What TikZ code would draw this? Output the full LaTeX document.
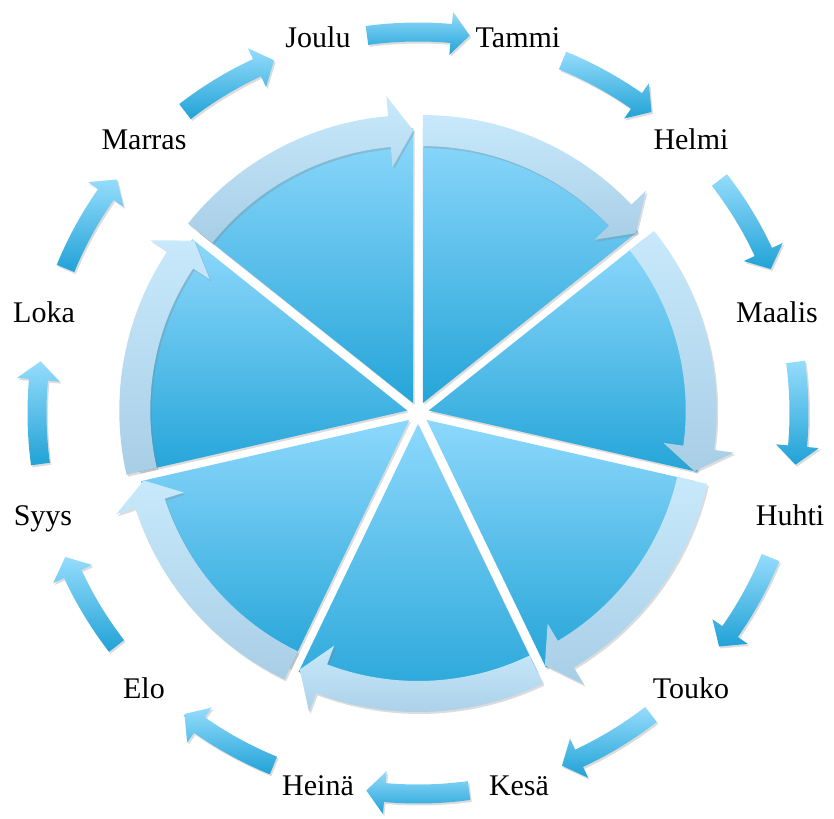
\documentclass[tikz,border=0pt]{standalone}
\usepackage{fontspec}
\setmainfont{Liberation Serif}
\usetikzlibrary{shadows}

\definecolor{wedgetop}{HTML}{8DD8FC}
\definecolor{wedgebot}{HTML}{25A5D8}
\definecolor{bandtop}{HTML}{C8E9FB}
\definecolor{bandbot}{HTML}{A8CEE6}
\definecolor{ringtop}{HTML}{95DCFC}
\definecolor{ringbot}{HTML}{20A2D6}

% gebogener Pfeil: Schwanzwinkel, Basiswinkel Spitze, Spitzenwinkel,
% r innen, r aussen, Spitze innen, Spitze aussen, r Spitze
\newcommand{\bentarrow}[8]{%
  (#1:#5) arc[start angle=#1, end angle=#2, radius=#5] -- (#2:#7) -- (#3:#8)
  -- (#2:#6) -- (#2:#4) arc[start angle=#2, end angle=#1, radius=#4] -- cycle}

\tikzset{
  softshadow/.style={drop shadow={opacity=0.28, shadow xshift=1.5pt, shadow yshift=-2pt}},
  wedgefill/.style={top color=wedgetop, bottom color=wedgebot, softshadow},
  bandfill/.style={top color=bandtop, bottom color=bandbot, softshadow},
  ringfill/.style={top color=ringtop, bottom color=ringbot, softshadow},
  monthlabel/.style={anchor=base, inner sep=0pt, font=\fontsize{30}{36}\selectfont}
}

\begin{document}
\begin{tikzpicture}[x=1pt, y=1pt]

  \useasboundingbox (-418,-405) rectangle (416,413);

  % --- Tortenstuecke (7, leicht auseinandergezogen) ---
  \foreach \k in {0,...,6}{
    \pgfmathsetmacro{\s}{90-\k*360/7}
    \pgfmathsetmacro{\e}{\s-360/7}
    \pgfmathsetmacro{\m}{\s-180/7}
    \begin{scope}[shift={(\m:11)}]
      \path[wedgefill] (0,0) -- (\s:275)
        arc[start angle=\s, end angle=\e, radius=275] -- cycle;
    \end{scope}
  }

  % --- Randpfeile auf den Stuecken ---
  \foreach \k in {0,...,6}{
    \pgfmathsetmacro{\s}{90-\k*360/7}
    \pgfmathsetmacro{\e}{\s-360/7}
    \pgfmathsetmacro{\b}{\e+5}
    \pgfmathsetmacro{\m}{\s-180/7}
    \begin{scope}[shift={(\m:11)}]
      \path[bandfill] \bentarrow{\s}{\b}{\e}{257}{288}{237}{308}{272.5};
    \end{scope}
  }

  % --- Aeusserer Ring: 12 kleine Pfeile ---
  \foreach \t in {0,30,...,330}{
    \pgfmathsetmacro{\s}{\t+7.7}
    \pgfmathsetmacro{\b}{\t-5}
    \pgfmathsetmacro{\e}{\t-7.8}
    \path[ringfill] \bentarrow{\s}{\b}{\e}{371.5}{390.5}{359.5}{402.5}{381};
  }

  % --- Monatsnamen ---
  \foreach \i/\txt/\x/\y in {1/Joulu/-100/365, 2/Tammi/100/365,
      3/Helmi/273/263, 4/Maalis/359/90, 5/Huhti/372/-112,
      6/Touko/273/-285, 7/Kesä/101/-382, 8/Heinä/-100/-382,
      9/Elo/-274/-285, 10/Syys/-375/-112, 11/Loka/-374/90,
      12/Marras/-274/263}
    \node[monthlabel] (m\i) at (\x,\y) {\txt};

\end{tikzpicture}
\end{document}
